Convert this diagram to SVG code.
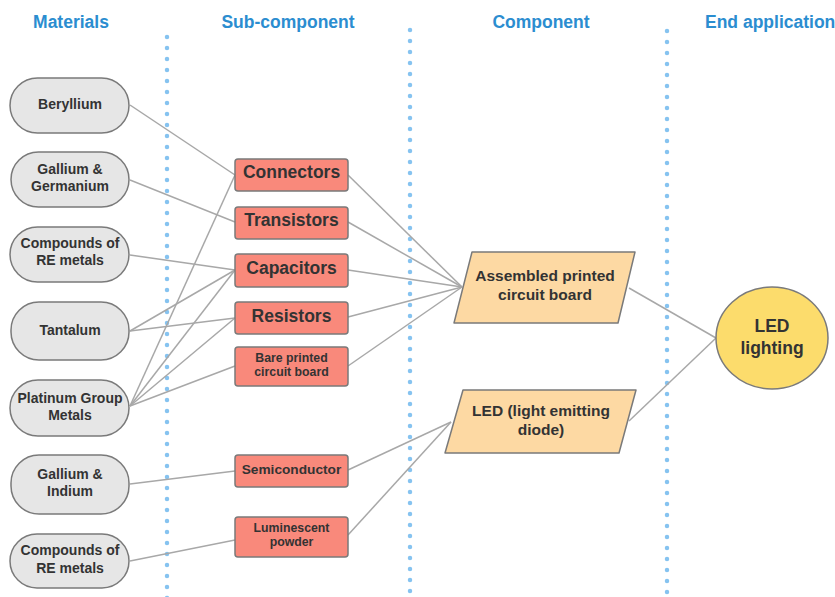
<svg xmlns="http://www.w3.org/2000/svg" width="835" height="597" viewBox="0 0 835 597">
  <style>
    .hdr { font-family: "Liberation Sans", Arial, sans-serif; font-weight: bold; font-size: 17.5px; fill: #2b8dd0; }
    .lbl { font-family: "Liberation Sans", Arial, sans-serif; font-weight: bold; fill: #333333; text-anchor: middle; }
    .mat { fill: #e6e6e6; stroke: #7a7a7a; stroke-width: 1.5; }
    .sub { fill: #f9897b; stroke: #7a7a7a; stroke-width: 1.5; }
    .cmp { fill: #fdd9a3; stroke: #7a7a7a; stroke-width: 1.5; stroke-linejoin: round; }
    .end { fill: #fcdc6c; stroke: #7a7a7a; stroke-width: 1.5; }
    .sep { stroke: #86c3f0; stroke-width: 4.5; stroke-linecap: round; stroke-dasharray: 0 11; fill: none; }
    .wire { stroke: #a8a8a8; stroke-width: 1.5; fill: none; }
  </style>
  <rect width="835" height="597" fill="#ffffff"/>

  <!-- column headers -->
  <g id="headers">
    <text class="hdr" x="71" y="28" text-anchor="middle">Materials</text>
    <text class="hdr" x="288" y="28" text-anchor="middle">Sub-component</text>
    <text class="hdr" x="541" y="28" text-anchor="middle">Component</text>
    <text class="hdr" x="705" y="28">End application</text>
  </g>

  <!-- dotted column separators -->
  <g id="separators">
    <line class="sep" x1="167" y1="37" x2="167" y2="600"/>
    <line class="sep" x1="410" y1="30" x2="410" y2="600"/>
    <line class="sep" x1="667" y1="31" x2="667" y2="600"/>
  </g>

  <!-- connectors -->
  <g id="connectors">
    <line class="wire" x1="130" y1="105" x2="235" y2="175"/>
    <line class="wire" x1="130" y1="180" x2="235" y2="222"/>
    <line class="wire" x1="130" y1="255" x2="235" y2="270"/>
    <line class="wire" x1="130" y1="331" x2="235" y2="270"/>
    <line class="wire" x1="130" y1="331" x2="235" y2="318"/>
    <line class="wire" x1="130" y1="406" x2="235" y2="175"/>
    <line class="wire" x1="130" y1="406" x2="235" y2="270"/>
    <line class="wire" x1="130" y1="406" x2="235" y2="318"/>
    <line class="wire" x1="130" y1="406" x2="235" y2="366"/>
    <line class="wire" x1="130" y1="484" x2="235" y2="471"/>
    <line class="wire" x1="130" y1="561" x2="235" y2="540"/>

    <line class="wire" x1="348" y1="175" x2="462" y2="287"/>
    <line class="wire" x1="348" y1="222" x2="462" y2="287"/>
    <line class="wire" x1="348" y1="270" x2="462" y2="287"/>
    <line class="wire" x1="348" y1="317" x2="462" y2="287"/>
    <line class="wire" x1="348" y1="366" x2="462" y2="287"/>
    <line class="wire" x1="348" y1="470" x2="451" y2="422"/>
    <line class="wire" x1="348" y1="535" x2="451" y2="422"/>

    <line class="wire" x1="629" y1="288" x2="716" y2="338"/>
    <line class="wire" x1="629" y1="421" x2="716" y2="338"/>
  </g>

  <!-- materials -->
  <g id="beryllium">
    <rect class="mat" x="10" y="78" width="119" height="55" rx="27.5"/>
    <text class="lbl" x="70" y="109" font-size="14">Beryllium</text>
  </g>
  <g id="gallium-germanium">
    <rect class="mat" x="11" y="152" width="118" height="55" rx="27.5"/>
    <text class="lbl" x="70" y="174" font-size="14">Gallium &amp;</text>
    <text class="lbl" x="70" y="191" font-size="14">Germanium</text>
  </g>
  <g id="re-compounds-1">
    <rect class="mat" x="10" y="227" width="119" height="55" rx="27.5"/>
    <text class="lbl" x="70" y="248" font-size="14">Compounds of</text>
    <text class="lbl" x="70" y="265" font-size="14">RE metals</text>
  </g>
  <g id="tantalum">
    <rect class="mat" x="11" y="302" width="118" height="58" rx="28"/>
    <text class="lbl" x="70" y="335" font-size="14">Tantalum</text>
  </g>
  <g id="platinum-group">
    <rect class="mat" x="10" y="380" width="119" height="56" rx="28"/>
    <text class="lbl" x="70" y="403" font-size="14">Platinum Group</text>
    <text class="lbl" x="70" y="420" font-size="14">Metals</text>
  </g>
  <g id="gallium-indium">
    <rect class="mat" x="11" y="455" width="118" height="59" rx="28"/>
    <text class="lbl" x="70" y="479" font-size="14">Gallium &amp;</text>
    <text class="lbl" x="70" y="496" font-size="14">Indium</text>
  </g>
  <g id="re-compounds-2">
    <rect class="mat" x="10" y="534" width="119" height="54" rx="27"/>
    <text class="lbl" x="70" y="555" font-size="14">Compounds of</text>
    <text class="lbl" x="70" y="573" font-size="14">RE metals</text>
  </g>

  <!-- sub-components -->
  <g id="connectors-part">
    <rect class="sub" x="235" y="159" width="113" height="32" rx="3"/>
    <text class="lbl" x="291.5" y="178" font-size="17.5">Connectors</text>
  </g>
  <g id="transistors">
    <rect class="sub" x="235" y="207" width="113" height="32" rx="3"/>
    <text class="lbl" x="291.5" y="226" font-size="17.5">Transistors</text>
  </g>
  <g id="capacitors">
    <rect class="sub" x="235" y="254" width="113" height="33" rx="3"/>
    <text class="lbl" x="291.5" y="274" font-size="17.5">Capacitors</text>
  </g>
  <g id="resistors">
    <rect class="sub" x="235" y="302" width="113" height="32" rx="3"/>
    <text class="lbl" x="291.5" y="322" font-size="17.5">Resistors</text>
  </g>
  <g id="bare-pcb">
    <rect class="sub" x="235" y="347" width="113" height="39" rx="3"/>
    <text class="lbl" x="291.5" y="362" font-size="12.3">Bare printed</text>
    <text class="lbl" x="291.5" y="376" font-size="12.3">circuit board</text>
  </g>
  <g id="semiconductor">
    <rect class="sub" x="235" y="455" width="113" height="32" rx="3"/>
    <text class="lbl" x="291.5" y="474" font-size="13.7">Semiconductor</text>
  </g>
  <g id="luminescent-powder">
    <rect class="sub" x="235" y="517" width="113" height="40" rx="3"/>
    <text class="lbl" x="291.5" y="532" font-size="12.3">Luminescent</text>
    <text class="lbl" x="291.5" y="546" font-size="12.3">powder</text>
  </g>

  <!-- components -->
  <g id="assembled-pcb">
    <polygon class="cmp" points="472,252 635,252 618,323 454,323"/>
    <text class="lbl" x="545" y="281" font-size="15.5">Assembled printed</text>
    <text class="lbl" x="545" y="300" font-size="15.5">circuit board</text>
  </g>
  <g id="led">
    <polygon class="cmp" points="463,390 636,390 619,453 445,453"/>
    <text class="lbl" x="541" y="416" font-size="15.5">LED (light emitting</text>
    <text class="lbl" x="541" y="435" font-size="15.5">diode)</text>
  </g>

  <!-- end application -->
  <g id="led-lighting">
    <ellipse class="end" cx="772" cy="338" rx="56" ry="51"/>
    <text class="lbl" x="772" y="332" font-size="17.5">LED</text>
    <text class="lbl" x="772" y="354" font-size="17.5">lighting</text>
  </g>
</svg>
